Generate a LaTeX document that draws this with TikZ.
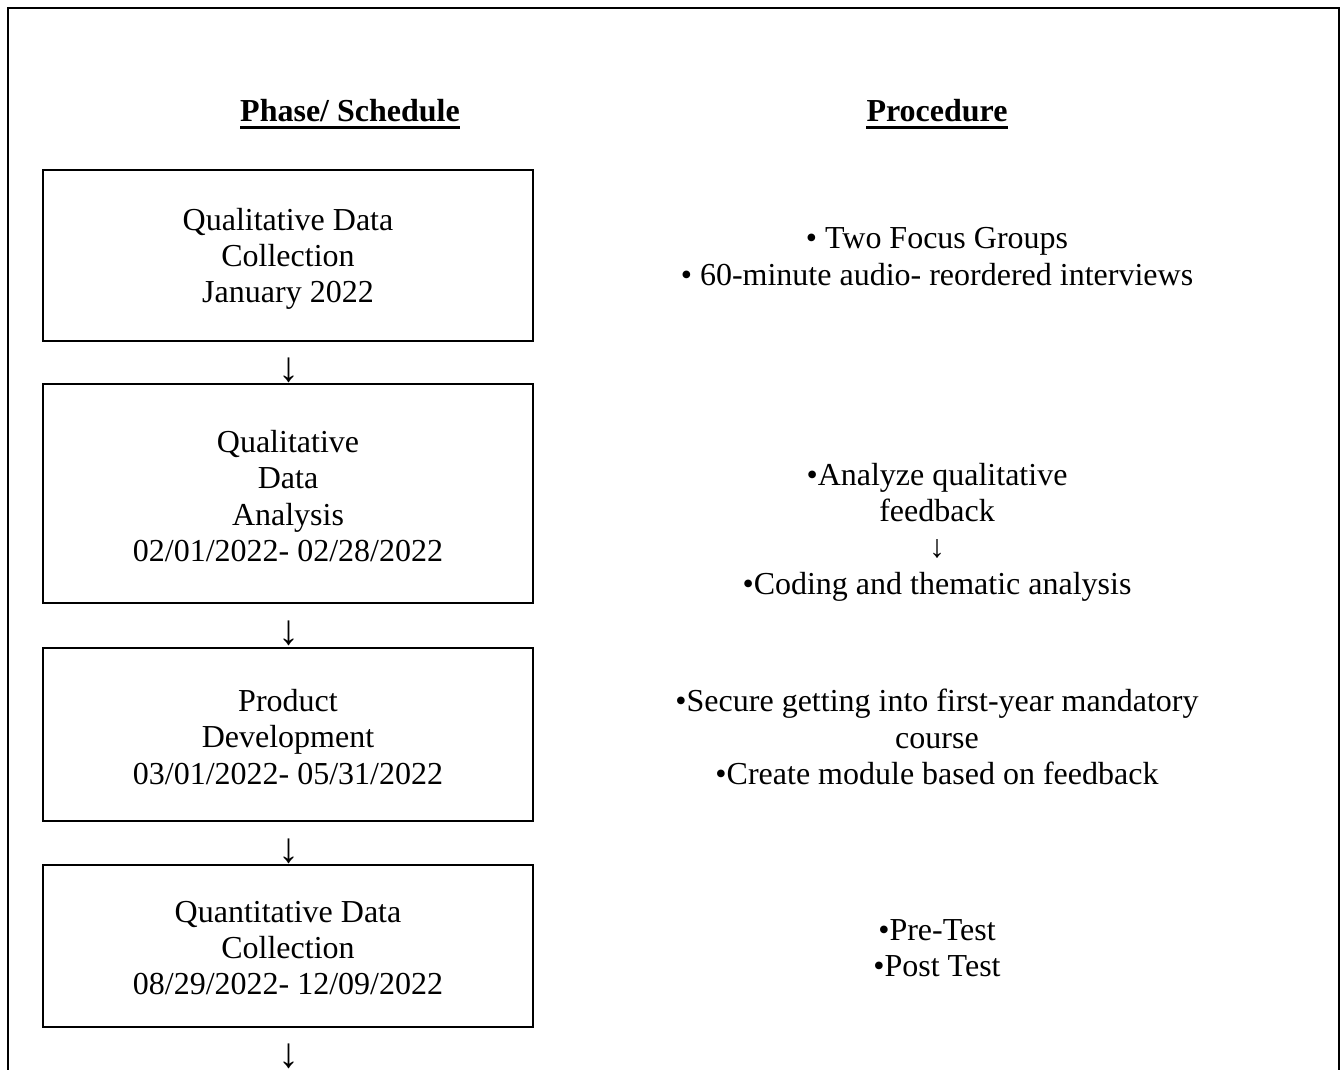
\documentclass[tikz,border=0pt]{standalone}
\usepackage{fontspec}
\setmainfont{Liberation Serif}
\begin{document}
\begin{tikzpicture}[x=1pt,y=-1pt,
  txt/.style={font=\fontsize{32}{36.3}\selectfont, align=center, inner sep=0pt},
  head/.style={font=\fontsize{32}{36}\selectfont\bfseries, inner sep=0pt, anchor=base},
  phasebox/.style={draw, line width=2.6pt, minimum width=490pt, inner sep=0pt},
  arr/.style={font=\fontsize{42}{42}\selectfont, inner sep=0pt, anchor=base}]
\useasboundingbox (0,0) rectangle (1344,1070);
% outer frame (open at bottom)
\draw[line width=2.6pt] (8,1075) -- (8,8) -- (1339,8) -- (1339,1075);
% headings
\node[head] (h1) at (350,122) {Phase/ Schedule};
\node[head] (h2) at (937,122) {Procedure};
\draw[line width=3pt] ([yshift=-5.5pt]h1.base west) -- ([yshift=-5.5pt]h1.base east);
\draw[line width=3pt] ([yshift=-5.5pt]h2.base west) -- ([yshift=-5.5pt]h2.base east);
% phase boxes
\node[phasebox, minimum height=171pt] (b1) at (288,255.5) {};
\node[phasebox, minimum height=219pt] (b2) at (288,493.5) {};
\node[phasebox, minimum height=173pt] (b3) at (288,734.5) {};
\node[phasebox, minimum height=162pt] (b4) at (288,946) {};
\node[txt] (t1) at ([yshift=-3.5pt]b1.center) {Qualitative Data\\Collection\\January 2022};
\node[txt] (t2) at ([yshift=-2.5pt]b2.center) {Qualitative\\Data\\Analysis\\02/01/2022- 02/28/2022};
\node[txt] (t3) at ([yshift=-2.5pt]b3.center) {Product\\Development\\03/01/2022- 05/31/2022};
\node[txt] (t4) at ([yshift=-2pt]b4.center) {Quantitative Data\\Collection\\08/29/2022- 12/09/2022};
% arrows (glyphs)
\node[arr] (a1) at (289,381) {↓};
\node[arr] (a2) at (289,644) {↓};
\node[arr] (a3) at (289,862) {↓};
\node[arr] (a4) at (289,1067) {↓};
% procedures
\node[txt] (p1) at (937,256.5) {• Two Focus Groups\\• 60-minute audio- reordered interviews};
\node[txt] (p2) at (937,532) {•Analyze qualitative\\feedback\\↓\\•Coding and thematic analysis};
\node[txt] (p3) at (937,737) {•Secure getting into first-year mandatory\\course\\•Create module based on feedback};
\node[txt] (p4) at (937,948.5) {•Pre-Test\\•Post Test};
\end{tikzpicture}
\end{document}
